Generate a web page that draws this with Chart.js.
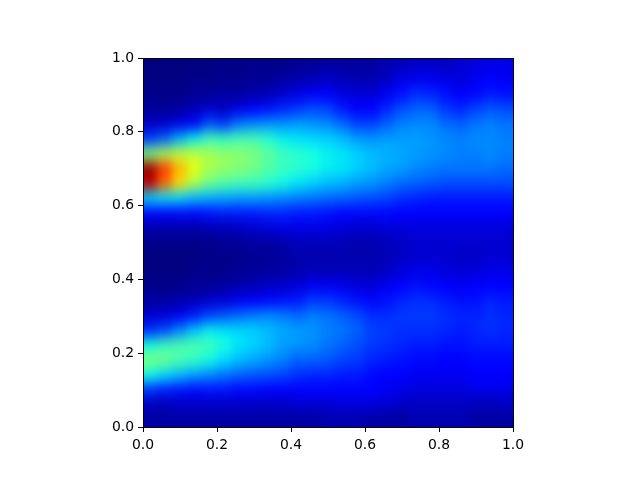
<!DOCTYPE html>
<html><head><meta charset="utf-8">
<style>html,body{margin:0;padding:0;background:#fff}canvas{display:block}</style>
<script src="https://cdn.jsdelivr.net/npm/chart.js@4"></script></head>
<body>
<svg width="0" height="0" style="position:absolute"><filter id="soft" x="0" y="0" width="100%" height="100%" color-interpolation-filters="sRGB"><feGaussianBlur stdDeviation="4 7"/></filter></svg>
<canvas id="c" width="640" height="480"></canvas>
<script>
const xCenters=[.02,.06,.10,.14,.18,.22,.26,.30,.34,.38,.42,.46,.50,.54,.58,.62,.66,.70,.74,.78,.82,.86,.90,.94,.98];
const yCenters=[.02,.06,.10,.14,.18,.22,.26,.30,.34,.38,.42,.46,.50,.54,.58,.62,.66,.70,.74,.78,.82,.86,.90,.94,.98];
const tickLabels=[0,.2,.4,.6,.8,1];
// intensity (percent of the jet range), one array per column, bottom to top
const columns=[
[3,5,17,37,50,38,17,7,3,1,0,0,1,4,12,34,94,98,50,18,6,2,1,0,0],
[3,5,15,34,48,42,20,8,3,1,0,0,1,4,12,35,80,85,55,22,7,2,1,0,0],
[3,6,14,31,44,44,26,10,4,1,0,0,1,4,13,34,68,72,58,30,9,3,1,0,0],
[3,6,13,28,41,44,32,15,5,2,1,0,1,4,13,31,56,63,58,36,13,5,2,1,0],
[3,6,14,26,37,43,36,19,7,2,1,1,1,5,14,30,48,56,55,42,20,7,2,1,0],
[3,6,14,24,34,38,35,21,8,3,1,1,2,5,15,29,45,53,53,41,18,6,3,1,1],
[3,6,13,22,31,35,34,23,10,4,2,1,2,6,15,28,43,51,52,43,24,9,3,1,1],
[3,6,13,21,29,33,33,25,12,5,2,2,3,7,15,28,42,49,50,43,26,12,4,2,1],
[3,6,12,20,27,31,31,26,13,6,3,2,3,8,16,27,40,45,46,40,27,14,5,2,1],
[3,6,12,19,25,28,29,25,14,7,3,3,4,9,16,26,37,42,42,36,27,16,7,3,1],
[3,7,11,17,22,27,28,23,15,8,4,4,5,9,15,25,35,40,40,35,28,18,9,4,2],
[3,7,11,16,22,26,27,25,18,10,5,4,5,9,15,24,33,38,38,34,27,20,11,5,2],
[4,7,11,16,21,24,25,24,18,10,5,4,5,9,14,23,31,36,36,33,26,19,11,6,3],
[4,8,11,15,19,22,24,22,16,10,5,4,5,8,13,22,30,35,35,31,23,15,9,5,3],
[4,8,11,15,18,20,22,20,14,8,5,4,4,7,13,21,28,33,33,28,19,12,8,4,3],
[3,8,11,13,16,18,19,17,13,8,5,4,4,7,13,20,27,31,31,27,19,12,8,4,3],
[3,7,10,12,15,17,18,17,14,10,6,5,5,8,13,19,25,29,30,28,22,16,10,6,4],
[3,6,9,11,14,16,17,18,16,12,8,6,6,8,12,17,23,28,29,28,25,20,14,9,5],
[4,6,8,10,13,15,17,18,17,14,9,7,7,8,11,16,22,26,28,28,26,22,17,10,6],
[4,6,8,10,13,15,17,18,17,13,9,7,7,8,11,15,21,25,27,27,26,22,16,10,6],
[4,6,8,10,12,14,16,17,15,11,8,7,7,8,11,15,20,24,26,26,23,18,14,9,6],
[4,6,8,10,12,14,15,16,14,10,8,6,7,8,11,15,20,24,25,25,22,16,11,8,7],
[3,5,9,11,13,15,16,16,14,11,8,6,7,8,11,15,20,24,25,26,24,19,13,10,8],
[3,5,9,11,13,15,17,17,16,12,9,7,7,8,11,15,20,24,26,26,25,21,15,11,9],
[3,6,9,11,13,15,16,16,15,11,9,7,7,8,11,15,20,23,25,25,24,20,14,10,9]
];
const cellHalf=.02;
function seg(v,pts){for(let i=1;i<pts.length;i++){if(v<=pts[i][0]){const a=pts[i-1],b=pts[i];return a[1]+(b[1]-a[1])*(v-a[0])/(b[0]-a[0]);}}return pts[pts.length-1][1];}
function jet(p){const v=Math.min(1,Math.max(0,p/100));
 const r=seg(v,[[0,0],[.35,0],[.66,1],[.89,1],[1,.5]]);
 const g=seg(v,[[0,0],[.125,0],[.375,1],[.64,1],[.91,0],[1,0]]);
 const b=seg(v,[[0,.5],[.11,1],[.34,1],[.65,0],[1,0]]);
 return `rgb(${Math.round(r*255)},${Math.round(g*255)},${Math.round(b*255)})`;}
const datasets=yCenters.map((y,j)=>({
 data:xCenters.map(x=>({x,y:[y-cellHalf,y+cellHalf]})),
 backgroundColor:columns.map(c=>jet(c[j])),
 borderWidth:0,barThickness:15.8,grouped:false}));
const smooth={id:'smooth',afterDatasetsDraw(ch){
 const {ctx,canvas,chartArea:a}=ch,w=a.right-a.left,h=a.bottom-a.top,m=30;
 const t=document.createElement('canvas');t.width=w+2*m;t.height=h+2*m;
 const q=t.getContext('2d');
 q.drawImage(canvas,a.left,a.top,w,h,0,0,w+2*m,h+2*m);
 q.drawImage(canvas,a.left,a.top,2,h,0,m,m,h);
 q.drawImage(canvas,a.right-2,a.top,2,h,m+w,m,m,h);
 q.drawImage(canvas,a.left,a.top,w,2,m,0,w,m);
 q.drawImage(canvas,a.left,a.bottom-2,w,2,m,m+h,w,m);
 q.drawImage(canvas,a.left,a.top,w,h,m,m,w,h);
 ctx.save();ctx.beginPath();ctx.rect(a.left,a.top,w,h);ctx.clip();
 ctx.filter='url(#soft)';ctx.drawImage(t,a.left-m,a.top-m);ctx.restore();
},afterDraw(ch){const {ctx,chartArea:a}=ch;ctx.save();ctx.strokeStyle='#000';ctx.lineWidth=1;
 ctx.strokeRect(a.left+.5,a.top+.5,a.right-a.left,a.bottom-a.top);ctx.restore();}};
const axis=(pad,extra)=>Object.assign({type:'linear',min:0,max:1,
 afterBuildTicks(s){s.ticks=tickLabels.map(value=>({value}));},
 grid:{drawOnChartArea:false,drawTicks:true,offset:false,tickLength:5,color:'#000',tickWidth:1},
 border:{display:false},
 ticks:{color:'#000',font:{family:'DejaVu Sans',size:13.9},padding:pad,maxRotation:0,autoSkip:false,
  callback:v=>v.toFixed(1)}},extra);
new Chart(document.getElementById('c'),{type:'bar',data:{datasets},plugins:[smooth],
 options:{responsive:false,animation:false,events:[],
 layout:{padding:{left:93,top:58,right:127,bottom:30}},
 plugins:{legend:{display:false},tooltip:{enabled:false},title:{display:false}},
 scales:{x:axis(5,{offset:false,afterFit(s){s.height=23;}}),y:axis(4,{afterFit(s){s.width=50;}})}}});
</script></body></html>
